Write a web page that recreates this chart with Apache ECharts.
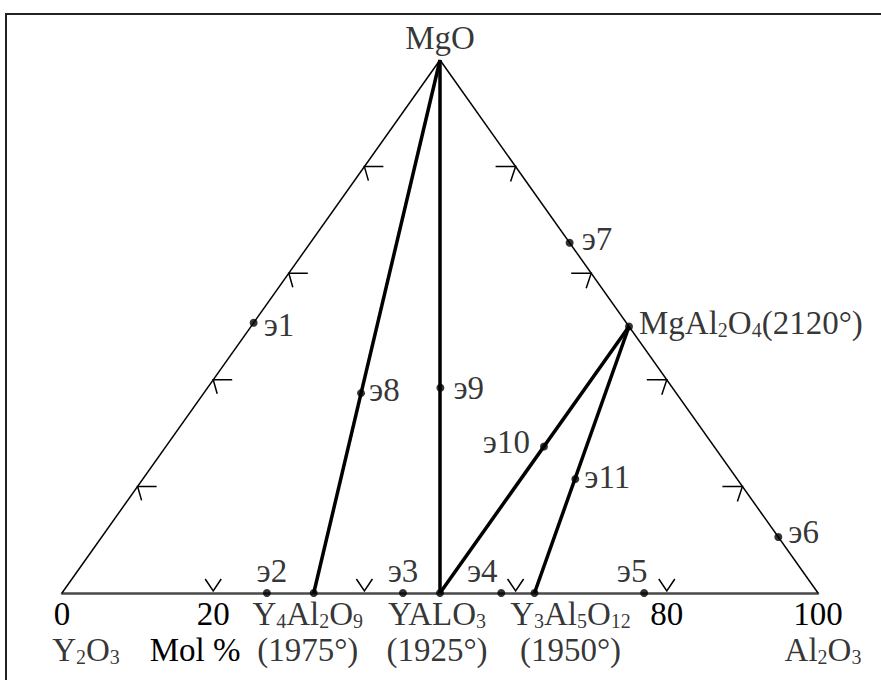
<!DOCTYPE html>
<html>
<head>
<meta charset="utf-8">
<script src="https://cdn.jsdelivr.net/npm/echarts@6/dist/echarts.min.js"></script>
<style>
  html, body { margin: 0; padding: 0; background: #fff; }
  #chart { width: 881px; height: 680px; }
</style>
</head>
<body>
<div id="chart"></div>
<script>
// Y2O3 – Al2O3 – MgO system, compositions in mol % (Y2O3 is the balance)
const vertexNames   = ['Y2O3', 'Al2O3', 'MgO'];
const vertexMgO     = [0, 0, 100];
const vertexAl2O3   = [0, 100, 0];

const compoundNames   = ['Y4Al2O9', 'YALO3', 'Y3Al5O12', 'MgAl2O4'];
const compoundMgO     = [0, 0, 0, 50];
const compoundAl2O3   = [33.3, 50, 62.5, 50];
const compoundMelting = ['1975°', '1925°', '1950°', '2120°'];

const eutecticNames = ['э1', 'э2', 'э3', 'э4', 'э5', 'э6', 'э7', 'э8', 'э9', 'э10', 'э11'];
const eutecticMgO   = [50.7, 0, 0, 0, 0, 10.5, 65.7, 37.5, 38.5, 27.5, 21.4];
const eutecticAl2O3 = [0, 27.1, 45.1, 58.1, 77.0, 89.5, 34.3, 20.8, 30.8, 50, 57.2];

// joins between phases
const joinPairs = [
  ['MgO', 'Y4Al2O9'],
  ['MgO', 'YALO3'],
  ['YALO3', 'MgAl2O4'],
  ['Y3Al5O12', 'MgAl2O4']
];

// direction marks placed along each side at these percentages
const sideMarkLevels = [20, 40, 60, 80];
// numbered ticks on the Y2O3–Al2O3 side
const axisTickLabels = [0, 20, 80, 100];
const unitLabel = 'Mol %';

// ---------------------------------------------------------------------------
const FONT = 'Liberation Serif';
const FS = 33;
const LH = 36;
const rich = {
  n: { fontFamily: FONT, fontSize: FS, lineHeight: LH, color: '#000' },
  s: { fontFamily: FONT, fontSize: 20, lineHeight: LH, padding: [14, 0, 0, 0], color: '#000' }
};
// chemical formula -> rich text with subscripted digits
const chem = s => s.split(/(\d+)/).filter(Boolean)
  .map(t => /^\d+$/.test(t) ? `{s|${t}}` : `{n|${t}}`).join('');

// ternary (MgO, Al2O3) -> plane: Y2O3 at left, Al2O3 at right, MgO at top
const toXY = (mgo, al) => [al + mgo / 2, mgo];

const phasePos = {};
vertexNames.forEach((n, i) => phasePos[n] = toXY(vertexMgO[i], vertexAl2O3[i]));
compoundNames.forEach((n, i) => phasePos[n] = toXY(compoundMgO[i], compoundAl2O3[i]));

// label placement for the invariant points
const eutecticLabel = {
  'э1':  { position: 'right', distance: 6,  offset: [0, 2] },
  'э2':  { position: 'top',   distance: 0,  offset: [5, 0] },
  'э3':  { position: 'top',   distance: 0,  offset: [0, 0] },
  'э4':  { position: 'top',   distance: 0,  offset: [-19, 0] },
  'э5':  { position: 'top',   distance: 0,  offset: [-12, 0] },
  'э6':  { position: 'right', distance: 6,  offset: [0, -5] },
  'э7':  { position: 'right', distance: 8,  offset: [0, -4] },
  'э8':  { position: 'right', distance: 4,  offset: [0, -3] },
  'э9':  { position: 'right', distance: 9,  offset: [0, 0] },
  'э10': { position: 'left',  distance: 10, offset: [0, -4] },
  'э11': { position: 'right', distance: 5,  offset: [0, -2] }
};
const compoundLabel = {
  'Y4Al2O9':  { position: 'bottom', distance: -1, offset: [-6, 0], align: 'center' },
  'YALO3':    { position: 'bottom', distance: -1, offset: [-3, 0], align: 'center' },
  'Y3Al5O12': { position: 'bottom', distance: -1, offset: [36, 0], align: 'center' },
  'MgAl2O4':  { position: 'right',  distance: 6,  offset: [0, -4] }
};
const vertexLabel = {
  'Y2O3':  { position: 'bottom', distance: 39, offset: [24, 0] },
  'Al2O3': { position: 'bottom', distance: 39, offset: [5, 0] },
  'MgO':   { position: 'top',    distance: 4,  offset: [0, 0] }
};

// ---------------------------------------------------------------------------
const sideData = [
  { coords: [phasePos.Y2O3, phasePos.MgO] },
  { coords: [phasePos.MgO, phasePos.Al2O3] }
];
const joinData = joinPairs.map(([a, b]) => ({ coords: [phasePos[a], phasePos[b]] }));

const markData = [];
sideMarkLevels.forEach(v => {
  markData.push([...toXY(v, 0), 0]);        // Y2O3–MgO side
  markData.push([...toXY(v, 100 - v), 1]);  // MgO–Al2O3 side
  markData.push([...toXY(0, v), 2]);        // Y2O3–Al2O3 side
});

const compoundData = compoundNames.map((n, i) => {
  const isBase = compoundMgO[i] === 0;
  const text = isBase
    ? chem(n) + `\n{n|(${compoundMelting[i]})}`
    : chem(n) + `{n|(${compoundMelting[i]})}`;
  return {
    name: n,
    value: toXY(compoundMgO[i], compoundAl2O3[i]),
    label: Object.assign({ show: true, formatter: text, rich }, compoundLabel[n])
  };
});

const eutecticData = eutecticNames.map((n, i) => ({
  name: n,
  value: toXY(eutecticMgO[i], eutecticAl2O3[i]),
  label: Object.assign({ show: true, formatter: `{n|${n}}`, rich }, eutecticLabel[n])
}));

const vertexData = vertexNames.map((n, i) => ({
  name: n,
  value: toXY(vertexMgO[i], vertexAl2O3[i]),
  label: Object.assign({ show: true, formatter: chem(n), rich }, vertexLabel[n])
}));

const chart = echarts.init(document.getElementById('chart'), null, { renderer: 'svg' });

chart.setOption({
  animation: false,
  backgroundColor: '#fff',
  grid: { left: 62, right: 63, top: 60, bottom: 87 },
  xAxis: {
    type: 'value', min: 0, max: 100, interval: 20,
    axisLine: { show: true, lineStyle: { color: '#4a4a4a', width: 2.5 } },
    axisTick: { show: false },
    splitLine: { show: false },
    axisLabel: {
      margin: 3,
      fontFamily: FONT, fontSize: FS, lineHeight: LH, color: '#000',
      formatter: v => axisTickLabels.includes(v) ? String(v) : ''
    }
  },
  yAxis: { type: 'value', min: 0, max: 100, show: false },
  graphic: [
    {
      type: 'rect', silent: true, z: -1,
      shape: { x: 6, y: 14, width: 900, height: 700 },
      style: { fill: null, stroke: '#222', lineWidth: 2 }
    },
    {
      type: 'text', x: 195, y: 650,
      style: {
        text: `{n|${unitLabel}}`, rich,
        align: 'center', verticalAlign: 'middle'
      }
    }
  ],
  series: [
    {
      type: 'lines', coordinateSystem: 'cartesian2d', silent: true, z: 2,
      lineStyle: { color: '#000', width: 1.5, opacity: 1, curveness: 0 },
      data: sideData
    },
    {
      type: 'lines', coordinateSystem: 'cartesian2d', silent: true, z: 3,
      lineStyle: { color: '#000', width: 3.5, opacity: 1, curveness: 0 },
      data: joinData
    },
    {
      type: 'custom', coordinateSystem: 'cartesian2d', silent: true, z: 3,
      data: markData,
      renderItem(params, api) {
        const p = api.coord([api.value(0), api.value(1)]);
        const side = api.value(2);
        let pts;
        if (side === 0) pts = [[p[0] + 19, p[1]], p, [p[0] + 4, p[1] + 14]];
        else if (side === 1) pts = [[p[0] - 20, p[1]], p, [p[0] - 5, p[1] + 15]];
        else pts = [[p[0] - 8, p[1] - 14], [p[0], p[1] - 2], [p[0] + 8, p[1] - 14]];
        return {
          type: 'polyline',
          shape: { points: pts },
          style: { stroke: '#000', lineWidth: 1.5, fill: null }
        };
      }
    },
    {
      type: 'scatter', z: 5, symbolSize: 8,
      itemStyle: { color: '#000' },
      data: compoundData
    },
    {
      type: 'scatter', z: 5, symbolSize: 8,
      itemStyle: { color: '#000' },
      data: eutecticData
    },
    {
      type: 'scatter', z: 5, symbolSize: 0,
      itemStyle: { color: '#000' },
      data: vertexData
    }
  ]
});
</script>
</body>
</html>
